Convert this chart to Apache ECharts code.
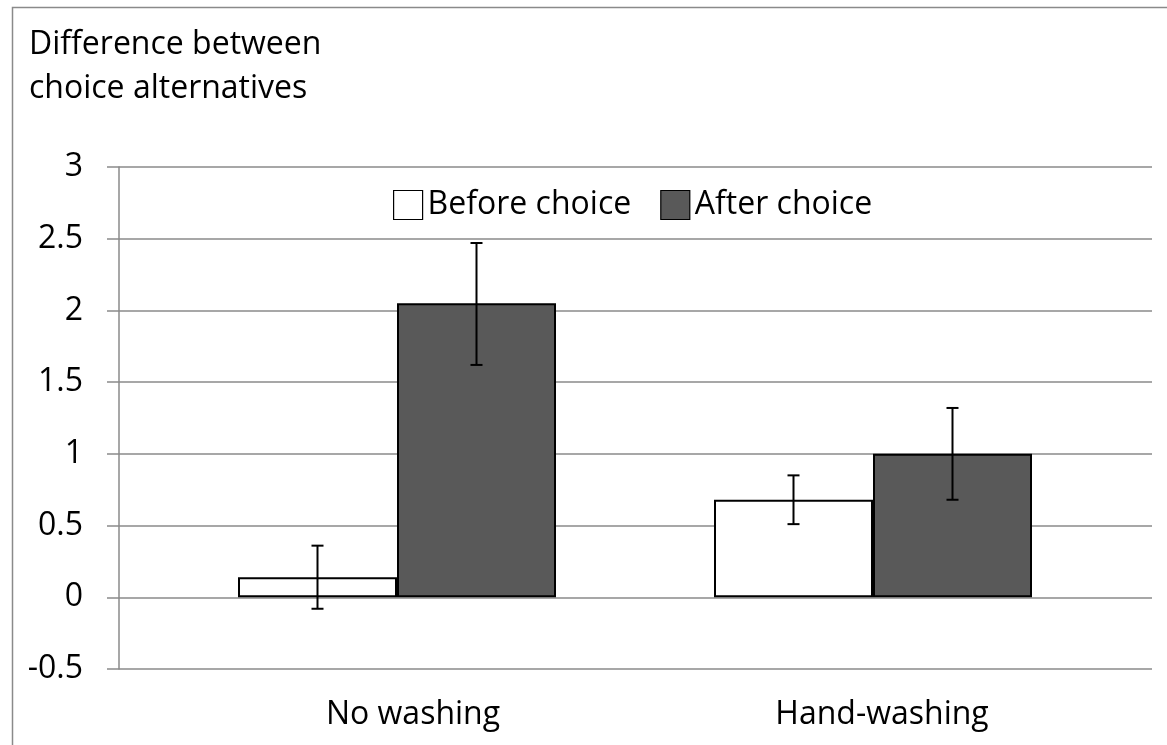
<!DOCTYPE html>
<html><head><meta charset="utf-8">
<script src="https://cdn.jsdelivr.net/npm/echarts@6/dist/echarts.min.js"></script>
<style>html,body{margin:0;padding:0;background:#fff}#c{width:1167px;height:745px}</style>
</head><body><div id="c"></div>
<script>
const categories = ['No washing', 'Hand-washing'];
const seriesNames = ['Before choice', 'After choice'];
const beforeVals = [0.14, 0.68];
const afterVals = [2.05, 1.00];
const beforeLow = [-0.08, 0.51];
const beforeHigh = [0.36, 0.85];
const afterLow = [1.62, 0.68];
const afterHigh = [2.47, 1.32];
const yTicks = [-0.5, 0, 0.5, 1, 1.5, 2, 2.5, 3];

const FONT = 'Open Sans';
const FS = 32;
const chart = echarts.init(document.getElementById('c'), null, {renderer: 'canvas'});
const BAR_W = 159;
function errSeries(low, high, dir) {
  return {
    type: 'custom', xAxisIndex: 1, yAxisIndex: 1, silent: true, z: 10,
    data: low.map((l, i) => [i, l, high[i]]),
    renderItem: function (params, api) {
      const i = api.value(0);
      const p1 = api.coord([i, api.value(1)]);
      const p2 = api.coord([i, api.value(2)]);
      const x = p1[0] + dir * BAR_W / 2;
      const cw = 6;
      const st = {stroke: '#000', lineWidth: 2};
      return {type: 'group', children: [
        {type: 'line', shape: {x1: x, y1: p1[1], x2: x, y2: p2[1]}, style: st},
        {type: 'line', shape: {x1: x - cw, y1: p1[1], x2: x + cw, y2: p1[1]}, style: st},
        {type: 'line', shape: {x1: x - cw, y1: p2[1], x2: x + cw, y2: p2[1]}, style: st}
      ]};
    }
  };
}
const option = {
  animation: false,
  backgroundColor: '#fff',
  textStyle: {fontFamily: FONT},
  title: {
    text: 'Difference between\nchoice alternatives',
    left: 29, top: 23, padding: 0,
    textStyle: {fontFamily: FONT, fontSize: FS, fontWeight: 'normal', color: '#000', lineHeight: 44}
  },
  graphic: [{type: 'rect', left: 10, top: 5, shape: {width: 1200, height: 800}, silent: true, z: -10,
    style: {fill: 'none', stroke: '#8a8a8a', lineWidth: 1.5}}],
  legend: {
    data: seriesNames, top: 189, left: 393, padding: 0,
    icon: 'rect',
    itemWidth: 29, itemHeight: 29, itemGap: 29,
    textStyle: {fontFamily: FONT, fontSize: FS, color: '#000'},
    itemStyle: {borderColor: '#000', borderWidth: 1.2}
  },
  grid: [
    {left: 119, right: 15, top: 167, bottom: 76},
    {left: 159, right: 56, top: 167, bottom: 76}
  ],
  xAxis: [
    {gridIndex: 0, type: 'category', data: categories, show: false},
    {gridIndex: 1, type: 'category', data: categories, boundaryGap: true,
     axisLine: {show: false}, axisTick: {show: false}, splitLine: {show: false},
     axisLabel: {margin: 30, fontFamily: FONT, fontSize: FS, color: '#000',
       formatter: function (v, i) { return i === 0 ? '{a|' + v + '}' : '{b|' + v + '}'; },
       rich: {a: {fontFamily: FONT, fontSize: FS, color: '#000', padding: [0, 0, 0, 32]},
              b: {fontFamily: FONT, fontSize: FS, color: '#000', padding: [0, 0, 0, 18]}}}}
  ],
  yAxis: [
    {gridIndex: 0, type: 'value', min: yTicks[0], max: yTicks[yTicks.length - 1], interval: 0.5,
     axisLine: {show: true, lineStyle: {color: '#8a8a8a', width: 1.5}},
     axisTick: {show: true, length: 12, lineStyle: {color: '#8a8a8a', width: 1.5}},
     splitLine: {show: true, lineStyle: {color: '#8a8a8a', width: 1.5}},
     axisLabel: {margin: 36, fontFamily: FONT, fontSize: FS, color: '#000'}},
    {gridIndex: 1, type: 'value', min: yTicks[0], max: yTicks[yTicks.length - 1], interval: 0.5, show: false,
     splitLine: {show: false}}
  ],
  series: [
    {name: seriesNames[0], type: 'bar', xAxisIndex: 1, yAxisIndex: 1, data: beforeVals,
     barWidth: BAR_W, barGap: '0%',
     itemStyle: {color: '#ffffff', borderColor: '#000', borderWidth: 2}},
    {name: seriesNames[1], type: 'bar', xAxisIndex: 1, yAxisIndex: 1, data: afterVals,
     barWidth: BAR_W, barGap: '0%',
     itemStyle: {color: '#595959', borderColor: '#000', borderWidth: 2}},
    errSeries(beforeLow, beforeHigh, -1),
    errSeries(afterLow, afterHigh, 1)
  ]
};
chart.setOption(option);
</script></body></html>
